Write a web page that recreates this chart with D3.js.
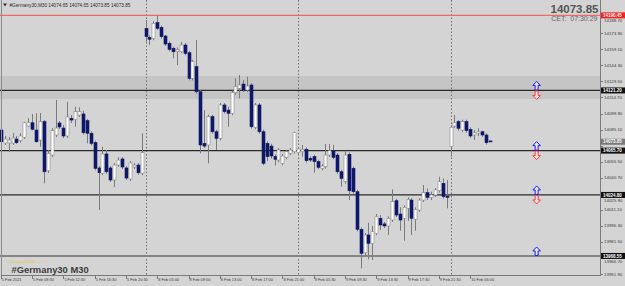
<!DOCTYPE html>
<html><head><meta charset="utf-8">
<script src="https://cdn.jsdelivr.net/npm/d3@7"></script>
<style>body{margin:0;background:#d4d4d4}svg{display:block}</style>
</head><body><svg id="c" width="625" height="286"></svg>
<script>
// ---- data ----
const opens = [14084.7,14072.7,14072.7,14072.7,14076.4,14074.8,14078.0,14088.4,14091.4,14084.7,
14075.5,14092.4,14047.2,14061.6,14080.1,14091.2,14086.5,14079.2,14095.5,14094.6,
14098.5,14099.5,14093.3,14081.7,14073.0,14049.7,14044.8,14062.6,14049.7,14038.6,
14052.4,14058.0,14049.7,14039.5,14050.6,14052.4,14044.8,14178.5,14170.2,14169.3,
14183.7,14179.4,14171.4,14164.7,14160.1,14156.9,14156.9,14163.1,14156.0,14132.4,
14143.1,14120.0,14072.4,14070.9,14097.0,14083.1,14077.0,14107.8,14103.1,14100.1,
14119.1,14123.2,14127.1,14121.6,14126.2,14087.2,14107.8,14083.1,14072.4,14069.9,
14060.1,14057.0,14054.0,14059.5,14063.2,14064.7,14063.8,14064.7,14066.9,14058.6,
14060.1,14055.5,14049.4,14050.8,14061.7,14065.6,14061.6,14046.2,14037.0,14062.3,
14049.4,14027.8,13993.1,13971.5,13987.9,13980.2,13989.4,14003.3,13998.1,13996.2,
14001.7,14019.5,14007.2,14003.3,14012.5,14020.1,14002.3,14010.9,14020.1,14026.9,
14022.6,14024.8,14028.7,14035.5,14023.8,14069.3,14088.4,14092.4,14084.7,14092.4,
14085.3,14080.1,14081.7,14083.1,14080.1,14074.65];
const highs = [14086.5,14079.2,14078.2,14081.9,14079.2,14081.9,14092.3,14095.5,14099.4,14100.1,
14100.4,14093.9,14066.3,14086.5,14112.4,14093.0,14089.3,14110.8,14098.5,14106.2,
14105.6,14102.5,14095.0,14083.5,14074.9,14051.4,14069.3,14066.3,14051.4,14054.2,
14059.8,14059.8,14051.4,14056.1,14054.2,14054.2,14081.7,14186.2,14171.9,14184.9,
14190.45,14181.2,14172.3,14166.5,14161.5,14161.0,14166.1,14164.9,14157.8,14149.5,
14167.7,14121.8,14103.1,14098.8,14098.8,14085.0,14109.6,14109.6,14106.2,14120.9,
14132.4,14135.4,14130.8,14133.9,14128.0,14109.6,14109.6,14085.0,14074.2,14072.0,
14062.0,14068.0,14062.6,14066.5,14068.1,14083.1,14069.0,14070.9,14068.7,14060.5,
14062.0,14057.3,14053.3,14071.8,14071.8,14070.9,14063.4,14048.0,14065.6,14064.1,
14051.2,14029.6,13994.9,13989.7,13999.2,13996.2,14007.2,14006.3,13999.9,14005.1,
14030.0,14021.3,14013.4,14015.2,14022.6,14021.9,14013.4,14021.9,14034.0,14030.9,
14027.8,14031.2,14041.6,14040.1,14038.6,14089.0,14098.5,14093.9,14094.2,14094.2,
14087.1,14084.7,14086.3,14084.0,14081.7,14074.65];
const lows = [14072.7,14070.9,14064.7,14070.9,14071.8,14073.0,14076.4,14087.5,14084.5,14073.0,
14069.3,14035.5,14045.0,14059.8,14078.2,14085.6,14077.3,14077.3,14091.2,14087.7,
14096.7,14080.5,14072.4,14070.5,14047.5,14010.9,14043.0,14044.3,14036.8,14032.1,
14050.6,14048.8,14038.6,14037.7,14048.8,14043.4,14043.0,14166.1,14163.1,14167.5,
14176.9,14169.0,14162.2,14157.3,14150.8,14144.6,14155.5,14153.6,14130.5,14130.5,
14118.2,14063.2,14068.1,14054.0,14081.3,14066.3,14075.2,14099.8,14087.7,14098.3,
14117.3,14113.9,14119.7,14119.7,14085.9,14085.4,14081.3,14052.2,14056.0,14058.3,
14052.0,14055.0,14052.2,14057.7,14061.4,14063.0,14061.9,14060.1,14054.6,14055.2,
14045.3,14048.5,14047.5,14049.0,14059.8,14057.7,14044.3,14032.4,14035.2,14020.1,
14026.0,13991.3,13957.1,13968.5,13965.4,13964.8,13987.6,13992.5,13994.4,13987.9,
13999.9,14004.5,13991.8,13982.6,14001.0,13987.9,13991.8,14009.1,14018.3,14020.1,
14020.1,14023.0,14026.9,14021.4,14012.5,14060.1,14086.6,14084.0,14082.9,14082.2,
14077.4,14075.5,14079.2,14078.2,14071.2,14073.85];
const closes = [14073.9,14076.4,14075.5,14077.3,14073.0,14079.2,14091.4,14091.4,14085.4,14073.9,
14092.4,14046.2,14063.2,14084.1,14086.5,14087.5,14079.2,14096.7,14093.9,14101.6,
14101.6,14082.2,14081.7,14072.4,14049.4,14045.3,14062.6,14046.2,14038.6,14052.4,
14057.0,14050.6,14040.4,14054.3,14052.4,14045.3,14063.8,14170.8,14168.4,14183.1,
14178.5,14170.8,14164.0,14159.1,14156.9,14159.1,14163.1,14155.4,14132.4,14147.7,
14120.0,14070.9,14069.9,14097.0,14083.1,14077.0,14107.8,14101.6,14100.1,14119.1,
14124.6,14126.2,14121.6,14125.3,14087.7,14107.8,14083.1,14054.0,14060.1,14060.7,
14057.7,14066.3,14060.7,14064.7,14066.3,14082.2,14067.2,14066.9,14056.4,14057.0,
14055.5,14050.3,14051.5,14061.6,14065.6,14059.5,14046.2,14040.1,14061.6,14028.7,
14027.8,13993.1,13971.0,13987.9,13980.2,13990.9,14004.7,13997.1,13996.2,14003.3,
14018.6,14006.3,14001.7,14013.4,14020.8,14003.3,14011.6,14020.1,14026.9,14022.6,
14024.8,14029.4,14037.0,14023.2,14022.6,14087.2,14091.4,14086.3,14092.4,14084.1,
14079.2,14082.2,14083.1,14080.1,14073.0,14073.85];

const timeLabels = ["5 Feb 2021","5 Feb 08:30","5 Feb 12:30","5 Feb 16:30","5 Feb 20:30","8 Feb 05:00",
"8 Feb 09:00","8 Feb 13:00","8 Feb 17:00","8 Feb 21:00","9 Feb 05:30","9 Feb 09:30","9 Feb 13:30",
"9 Feb 17:30","9 Feb 21:30","10 Feb 06:00"];
const timeLabelBars = [0,8,16,24,32,40,48,56,64,72,80,88,96,104,112,120];
const daySeparatorBars = [37,76,115];
const priceTicks = [14188.70,14173.90,14159.10,14144.30,14129.50,14114.70,14099.90,14085.10,14070.30,
14055.50,14040.70,14025.90,14011.10,13996.30,13981.50,13966.70,13951.90];
const levelPrices = [14121.20,14065.70,14024.80];
const supportPrice = 13968.55;
const highLinePrice = 14190.45;
const bandPrices = [14134.5,14113.3];
const bidPrice = 14073.85;
const arrowLevels = [14121.20,14065.70,14024.80,13968.55];
const arrowDown = [true,true,true,false];
const arrowBar = 137;
const headerText = "#Germany30,M30  14074.65 14074.65 14073.85 14073.85";

// ---- drawing ----
const svg = d3.select("#c");
const W = 625, H = 286, plotR = 600, plotB = 275;
const x = d3.scaleLinear().domain([0,125]).range([0.8,489.7]);
const y = d3.scaleLinear().domain([13951.90,14173.90]).range([274,33.3]);
const bg = "#d4d4d4";
const FONT = "Liberation Sans, Arial, sans-serif";

svg.append("rect").attr("width",W).attr("height",H).attr("fill",bg);

const plot = svg.append("g");
plot.append("defs").append("clipPath").attr("id","pc").append("rect")
  .attr("x",0).attr("y",0).attr("width",plotR).attr("height",plotB);
const g = plot.append("g").attr("clip-path","url(#pc)");

// band
g.append("rect").attr("x",0).attr("width",plotR)
  .attr("y",y(bandPrices[0])).attr("height",y(bandPrices[1])-y(bandPrices[0]))
  .attr("fill","#c5c5c5");

// separators
g.selectAll("line.sep").data(daySeparatorBars).join("line")
  .attr("x1",d=>Math.round(x(d))+0.5).attr("x2",d=>Math.round(x(d))+0.5)
  .attr("y1",0).attr("y2",plotB)
  .attr("stroke","#6e6e6e").attr("stroke-width",1).attr("stroke-dasharray","1.5,2");

// level lines
g.append("line").attr("x1",0).attr("x2",plotR).attr("y1",y(highLinePrice)).attr("y2",y(highLinePrice))
  .attr("stroke","#ee6a6a").attr("stroke-width",1.2);
g.selectAll("line.lvl").data(levelPrices).join("line")
  .attr("x1",0).attr("x2",plotR).attr("y1",d=>y(d)).attr("y2",d=>y(d))
  .attr("stroke","#2a2a2a").attr("stroke-width",1.2);
g.append("line").attr("x1",0).attr("x2",plotR).attr("y1",y(supportPrice)).attr("y2",y(supportPrice))
  .attr("stroke","#858585").attr("stroke-width",2);

// candles
const idx = d3.range(opens.length);
const cx = i => Math.round(x(i));
g.selectAll("line.wick").data(idx).join("line")
  .attr("x1",i=>cx(i)+0.5).attr("x2",i=>cx(i)+0.5)
  .attr("y1",i=>y(highs[i])).attr("y2",i=>y(lows[i]))
  .attr("stroke","#7a7a7a").attr("stroke-width",1);
g.selectAll("rect.body").data(idx).join("rect")
  .attr("x",i=>cx(i)-1).attr("width",3)
  .attr("y",i=>y(Math.max(opens[i],closes[i])))
  .attr("height",i=>Math.max(1,Math.abs(y(opens[i])-y(closes[i]))))
  .attr("fill",i=>closes[i]<opens[i]?"#0f1868":"#ffffff")
  .attr("stroke",i=>closes[i]<opens[i]?"#0f1868":"#8a8a8a")
  .attr("stroke-width",0.6);

// arrows
const ax = x(arrowBar);
function upArrow(px,by){const t=by-9;return `M${px},${t}L${px+3.8},${t+4}L${px+1.5},${t+4}L${px+1.5},${by-0.5}L${px-1.5},${by-0.5}L${px-1.5},${t+4}L${px-3.8},${t+4}Z`;}
function downArrow(px,by){const t=by+9;return `M${px},${t}L${px+3.8},${t-4}L${px+1.5},${t-4}L${px+1.5},${by+0.5}L${px-1.5},${by+0.5}L${px-1.5},${t-4}L${px-3.8},${t-4}Z`;}
arrowLevels.forEach((p,k)=>{
  g.append("path").attr("d",upArrow(ax,y(p))).attr("fill","#e4e4f4").attr("stroke","#1a1aff").attr("stroke-width",1);
  if(arrowDown[k]) g.append("path").attr("d",downArrow(ax,y(p))).attr("fill","#f0e0e0").attr("stroke","#ff3a3a").attr("stroke-width",1);
});

// frame
svg.append("line").attr("x1",1.5).attr("x2",1.5).attr("y1",0).attr("y2",plotB).attr("stroke","#8a8a8a");
svg.append("line").attr("x1",plotR+0.5).attr("x2",plotR+0.5).attr("y1",0).attr("y2",plotB).attr("stroke","#7a7a7a");
svg.append("line").attr("x1",1).attr("x2",plotR+1).attr("y1",plotB+0.5).attr("y2",plotB+0.5).attr("stroke","#7a7a7a");

// price labels (boxes) positions, used to keep tick texts clear of them
const fmt = d3.format(".2f");
const boxPrices = [bidPrice, ...levelPrices, supportPrice, highLinePrice];
const boxH = 6;
function tickY(p){
  let yy = y(p);
  for(const b of boxPrices){
    const by = y(b);
    if(Math.abs(yy-by) < boxH/2 + 2.4){ yy = by + boxH/2 + 2.5; }
  }
  return yy;
}
// hidden-under-box ticks: only those that sit fully under a box are covered by it
const ax2 = svg.append("g");
ax2.selectAll("line").data(priceTicks).join("line")
  .attr("x1",plotR).attr("x2",plotR+3).attr("y1",d=>Math.round(y(d))+0.5).attr("y2",d=>Math.round(y(d))+0.5)
  .attr("stroke","#7a7a7a");
ax2.selectAll("text").data(priceTicks.filter(p=>!(p>14066 && p<14073.85))).join("text")
  .attr("x",plotR+4).attr("y",d=>tickY(d)).attr("dy","0.35em")
  .attr("font-family",FONT).attr("font-size",4.4).attr("fill","#3a3a3a")
  .text(d=>fmt(d));

function priceBox(p,fill){
  const yy=y(p);
  svg.append("rect").attr("x",plotR+1).attr("y",yy-boxH/2).attr("width",24).attr("height",boxH).attr("fill",fill);
  svg.append("text").attr("x",plotR+3).attr("y",yy).attr("dy","0.35em")
    .attr("font-family",FONT).attr("font-size",4.5).attr("font-weight","bold")
    .attr("fill","#ffffff").text(fmt(p));
}
priceBox(bidPrice,"#7a7a7a");
levelPrices.forEach(p=>priceBox(p,"#101010"));
priceBox(supportPrice,"#101010");
priceBox(highLinePrice,"#ff1e1e");

// time axis
const tx = svg.append("g");
tx.selectAll("line").data(timeLabelBars).join("line")
  .attr("x1",d=>Math.round(x(d))+0.5).attr("x2",d=>Math.round(x(d))+0.5)
  .attr("y1",plotB+1).attr("y2",plotB+4).attr("stroke","#7a7a7a");
tx.selectAll("text").data(timeLabelBars).join("text")
  .attr("x",d=>x(d)+1).attr("y",281)
  .attr("font-family",FONT).attr("font-size",3.9).attr("fill","#3a3a3a")
  .text((d,i)=>timeLabels[i]);

// header texts
svg.append("path").attr("d","M3,3.5L7,3.5L5,6.5Z").attr("fill","#303030");
svg.append("text").attr("x",9.5).attr("y",6.6)
  .attr("font-family",FONT).attr("font-size",4.7).attr("fill","#2a2a2a")
  .text(headerText);
svg.append("text").attr("x",598.5).attr("y",13).attr("text-anchor","end")
  .attr("font-family",FONT).attr("font-size",11.5).attr("font-weight","bold").attr("fill","#555555")
  .text(fmt(bidPrice));
svg.append("text").attr("x",597.5).attr("y",20.5).attr("text-anchor","end")
  .attr("font-family",FONT).attr("font-size",7).attr("fill","#666666")
  .attr("xml:space","preserve")
  .text("CET:  07:30:29");

// symbol watermark
svg.append("text").attr("x",6).attr("y",263.2)
  .attr("font-family",FONT).attr("font-size",3.4).attr("fill","#e8c23a")
  .text("* #Germany30 M30 ~~~~~~");
svg.append("text").attr("x",11.5).attr("y",272.5)
  .attr("font-family",FONT).attr("font-size",9.4).attr("font-weight","bold").attr("fill","#3c3c3c")
  .text("#Germany30 M30");
</script></body></html>
